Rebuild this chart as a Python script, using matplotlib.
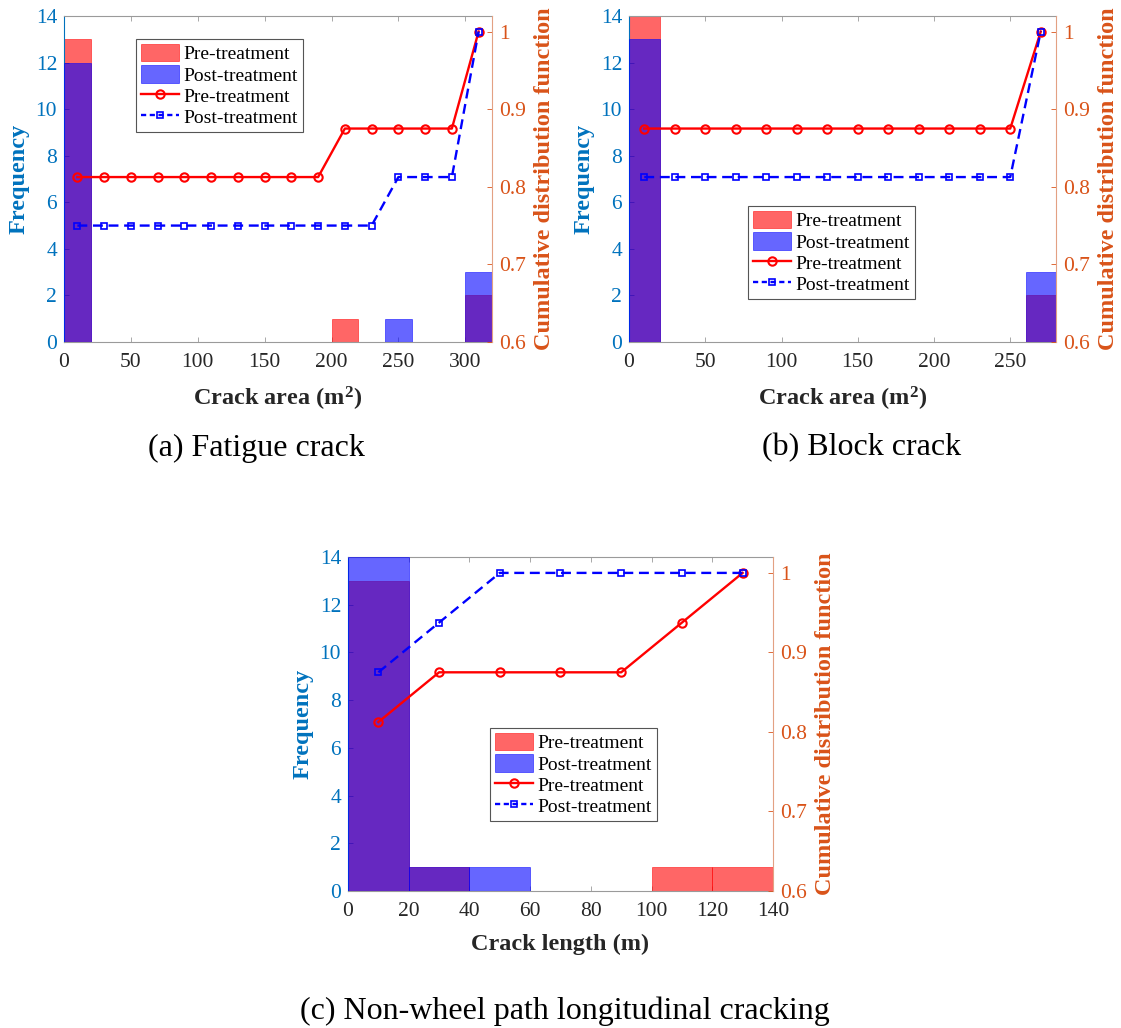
import numpy as np
import matplotlib
matplotlib.use("Agg")
import matplotlib.pyplot as plt
from matplotlib.patches import Patch
from matplotlib.lines import Line2D

plt.rcParams['font.family'] = ['Liberation Serif', 'DejaVu Serif']
plt.rcParams['mathtext.fontset'] = 'custom'
plt.rcParams['mathtext.rm'] = 'Liberation Serif'
plt.rcParams['mathtext.bf'] = 'Liberation Serif:bold'
plt.rcParams['mathtext.it'] = 'Liberation Serif:italic'

# ---- data: histogram counts per 20-unit bin and empirical CDF at bin centres ----
bin_width = 20

# (a) fatigue crack, crack area bins 0-320 m^2
fatigue_pre = [13, 0, 0, 0, 0, 0, 0, 0, 0, 0, 1, 0, 0, 0, 0, 2]
fatigue_post = [12, 0, 0, 0, 0, 0, 0, 0, 0, 0, 0, 0, 1, 0, 0, 3]
fatigue_cdf_pre = [0.8125, 0.8125, 0.8125, 0.8125, 0.8125, 0.8125, 0.8125, 0.8125,
                   0.8125, 0.8125, 0.875, 0.875, 0.875, 0.875, 0.875, 1.0]
fatigue_cdf_post = [0.75, 0.75, 0.75, 0.75, 0.75, 0.75, 0.75, 0.75,
                    0.75, 0.75, 0.75, 0.75, 0.8125, 0.8125, 0.8125, 1.0]

# (b) block crack, crack area bins 0-280 m^2
block_pre = [14, 0, 0, 0, 0, 0, 0, 0, 0, 0, 0, 0, 0, 2]
block_post = [13, 0, 0, 0, 0, 0, 0, 0, 0, 0, 0, 0, 0, 3]
block_cdf_pre = [0.875, 0.875, 0.875, 0.875, 0.875, 0.875, 0.875,
                 0.875, 0.875, 0.875, 0.875, 0.875, 0.875, 1.0]
block_cdf_post = [0.8125, 0.8125, 0.8125, 0.8125, 0.8125, 0.8125, 0.8125,
                  0.8125, 0.8125, 0.8125, 0.8125, 0.8125, 0.8125, 1.0]

# (c) non-wheel path longitudinal cracking, crack length bins 0-140 m
longit_pre = [13, 1, 0, 0, 0, 1, 1]
longit_post = [14, 1, 1, 0, 0, 0, 0]
longit_cdf_pre = [0.8125, 0.875, 0.875, 0.875, 0.875, 0.9375, 1.0]
longit_cdf_post = [0.875, 0.9375, 1.0, 1.0, 1.0, 1.0, 1.0]

freq_ticks = [0, 2, 4, 6, 8, 10, 12, 14]
cdf_ticks = [0.6, 0.7, 0.8, 0.9, 1.0]
cdf_ticklabels = ['0.6', '0.7', '0.8', '0.9', '1']
series_names = ['Pre-treatment', 'Post-treatment']

# ---- style ----
LEFT_C = '#0072BD'
RIGHT_C = '#D95319'
AX_C = '#9a9a9a'
TXT_C = '#262626'
TICK_FS = 15.5
LABEL_FS = 17.5
LEG_FS = 14
CAP_FS = 23

W, H = 1121, 1028
fig = plt.figure(figsize=(W / 100, H / 100), dpi=100)


def frac_rect(x0, y0, x1, y1):
    return [x0 / W, 1 - y1 / H, (x1 - x0) / W, (y1 - y0) / H]


def panel(rect, pre, post, cdf_pre, cdf_post, xmax, xticks, xlabel, leg_anchor, caption, cap_xy):
    ax = fig.add_axes(rect)
    n = len(pre)
    left_edges = np.arange(n) * bin_width
    centres = left_edges + bin_width / 2

    ax.bar(left_edges, pre, width=bin_width, align='edge', color='red', alpha=0.6,
           edgecolor='red', linewidth=0.6, zorder=2)
    ax.bar(left_edges, post, width=bin_width, align='edge', color='blue', alpha=0.6,
           edgecolor='blue', linewidth=0.6, zorder=3)
    ax.set_xlim(0, xmax)
    ax.set_ylim(0, 14)
    ax.set_xticks(xticks)
    ax.set_yticks(freq_ticks)

    ax2 = ax.twinx()
    ax2.plot(centres, cdf_pre, '-o', color='red', lw=1.7, ms=6, mfc='none', mew=1.5, zorder=4)
    ax2.plot(centres, cdf_post, '--s', color='blue', lw=1.7, ms=4.2, mfc='none', mew=1.2,
             dashes=(4.2, 2.4), zorder=5)
    ax2.set_ylim(0.6, 1.02)
    ax2.set_yticks(cdf_ticks)
    ax2.set_yticklabels(cdf_ticklabels)

    for s in ('top', 'bottom'):
        ax.spines[s].set_color(AX_C)
        ax.spines[s].set_linewidth(0.8)
        ax2.spines[s].set_visible(False)
    ax.spines['left'].set_color(LEFT_C)
    ax.spines['left'].set_linewidth(0.8)
    ax.spines['right'].set_visible(False)
    ax2.spines['left'].set_visible(False)
    ax2.spines['right'].set_color('#e3a183')
    ax2.spines['right'].set_linewidth(0.8)

    ax.tick_params(axis='x', direction='in', top=True, length=3.5, width=0.6, color=AX_C,
                   labelcolor=TXT_C, labelsize=TICK_FS, pad=8)
    ax.tick_params(axis='y', direction='in', length=3.5, width=0.6, color=LEFT_C,
                   labelcolor=LEFT_C, labelsize=TICK_FS, pad=5)
    ax2.tick_params(axis='y', direction='in', length=3.5, width=0.6, color=RIGHT_C,
                    labelcolor=RIGHT_C, labelsize=TICK_FS, pad=5)

    ax.set_xlabel(xlabel, fontsize=LABEL_FS, fontweight='bold', color=TXT_C, labelpad=9)
    ax.set_ylabel('Frequency', fontsize=LABEL_FS, fontweight='bold', color=LEFT_C, labelpad=4)
    ax2.set_ylabel('Cumulative distribution function', fontsize=LABEL_FS, fontweight='bold',
                   color=RIGHT_C, labelpad=6)

    handles = [
        Patch(facecolor='red', alpha=0.6, edgecolor='red', linewidth=0.6),
        Patch(facecolor='blue', alpha=0.6, edgecolor='blue', linewidth=0.6),
        Line2D([], [], color='red', lw=1.7, marker='o', ms=6, mfc='none', mew=1.5),
        Line2D([], [], color='blue', lw=1.7, ls='--', dashes=(2.2, 1.5), marker='s', ms=4.2,
               mfc='none', mew=1.2),
    ]
    leg = ax2.legend(handles, series_names + series_names, loc='upper left',
                     bbox_to_anchor=leg_anchor, borderaxespad=0, fontsize=LEG_FS,
                     frameon=True, fancybox=False, framealpha=1, edgecolor='#555555',
                     handlelength=1.95, handleheight=1.0, handletextpad=0.25,
                     labelspacing=0.1, borderpad=0.25)
    leg.get_frame().set_linewidth(0.8)
    leg.set_zorder(10)

    fig.text(cap_xy[0] / W, 1 - cap_xy[1] / H, caption, fontsize=CAP_FS, color='black',
             ha='center', va='center')
    return ax, ax2


area_label = r'Crack area (m$^{\mathbf{2}}$)'

panel(frac_rect(64, 16, 492, 342), fatigue_pre, fatigue_post, fatigue_cdf_pre, fatigue_cdf_post,
      320, [0, 50, 100, 150, 200, 250, 300], area_label,
      ((136 - 64) / 428, (342 - 39) / 326), '(a) Fatigue crack', (256, 448))

panel(frac_rect(629, 16, 1056, 342), block_pre, block_post, block_cdf_pre, block_cdf_post,
      280, [0, 50, 100, 150, 200, 250], area_label,
      ((748 - 629) / 427, (342 - 206) / 326), '(b) Block crack', (862, 448))

panel(frac_rect(348, 557, 773, 891), longit_pre, longit_post, longit_cdf_pre, longit_cdf_post,
      140, [0, 20, 40, 60, 80, 100, 120, 140], 'Crack length (m)',
      ((490 - 348) / 425, (891 - 728) / 334), '(c) Non-wheel path longitudinal cracking', (565, 1011))

fig.savefig('out.png', dpi=100)
